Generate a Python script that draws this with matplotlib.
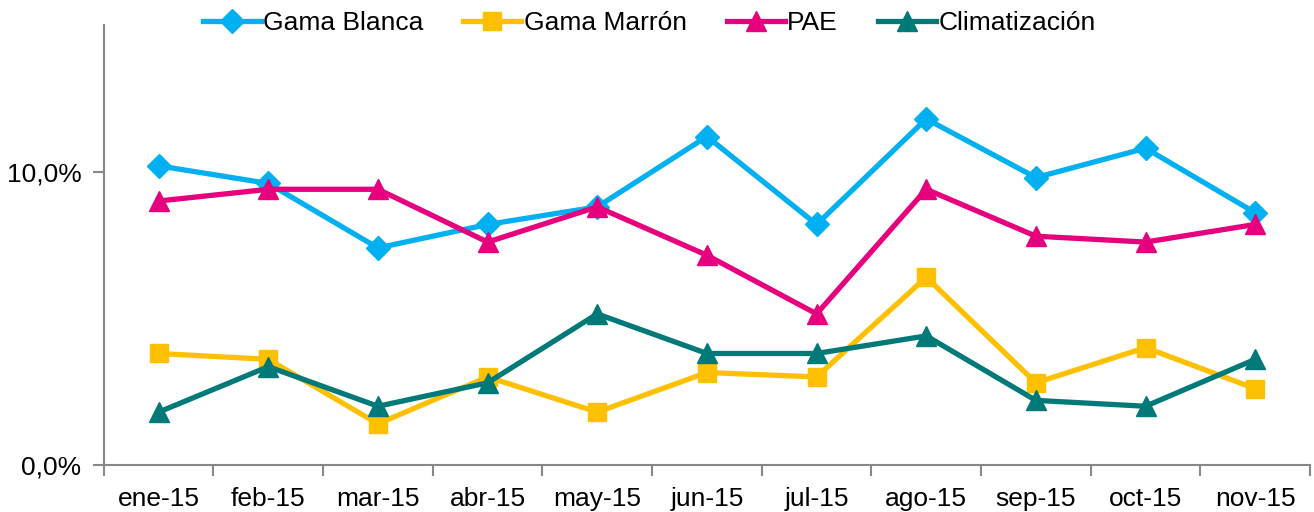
import matplotlib.pyplot as plt
from matplotlib.ticker import FixedLocator, FuncFormatter

plt.rcParams['font.family'] = ['Liberation Sans', 'DejaVu Sans']

meses = ["ene-15", "feb-15", "mar-15", "abr-15", "may-15", "jun-15",
         "jul-15", "ago-15", "sep-15", "oct-15", "nov-15"]

gama_blanca = [10.2, 9.6, 7.4, 8.2, 8.8, 11.2, 8.2, 11.8, 9.8, 10.8, 8.6]
gama_marron = [3.8, 3.6, 1.4, 3.0, 1.8, 3.15, 3.0, 6.4, 2.8, 4.0, 2.6]
pae = [9.0, 9.4, 9.4, 7.6, 8.8, 7.15, 5.15, 9.4, 7.8, 7.6, 8.2]
climatizacion = [1.8, 3.35, 2.0, 2.8, 5.15, 3.8, 3.8, 4.4, 2.2, 2.0, 3.6]

series = [
    ("Gama Blanca", gama_blanca, "#00B0F0", "D", 12),
    ("Gama Marrón", gama_marron, "#FFC000", "s", 13),
    ("PAE", pae, "#E6007E", "^", 14),
    ("Climatización", climatizacion, "#007A78", "^", 14),
]

fig = plt.figure(figsize=(13.14, 5.12), dpi=100)
ax = fig.add_axes([0.079, 0.092, 0.918, 0.859])

x = list(range(len(meses)))
for nombre, valores, color, marker, ms in series:
    ax.plot(x, valores, color=color, lw=3.8, marker=marker, ms=ms,
            label=nombre, solid_joinstyle="miter")

ax.set_xlim(-0.5, len(meses) - 0.5)
ax.set_ylim(0, 15)
ax.yaxis.set_major_locator(FixedLocator([0, 10]))
ax.yaxis.set_major_formatter(FuncFormatter(lambda v, p: f"{v:.1f}%".replace(".", ",")))

ax.xaxis.set_major_locator(FixedLocator([i - 0.5 for i in range(len(meses) + 1)]))
ax.xaxis.set_major_formatter(FuncFormatter(lambda v, p: ""))
ax.set_xticks(x, minor=True)
ax.set_xticklabels(meses, minor=True)

for s in ["top", "right"]:
    ax.spines[s].set_visible(False)
for s in ["left", "bottom"]:
    ax.spines[s].set_color("#888888")
    ax.spines[s].set_linewidth(1.5)

ax.tick_params(axis="both", which="major", length=8, width=1.5, color="#888888",
               labelsize=19)
ax.tick_params(axis="x", which="minor", length=0, labelsize=19, pad=16)
ax.tick_params(axis="y", pad=8)

fig.legend(loc="center", bbox_to_anchor=(0.494, 0.955), ncol=4, frameon=False,
           fontsize=19, handlelength=2.2, handletextpad=0.1, columnspacing=1.5)

fig.savefig("out.png", dpi=100)
